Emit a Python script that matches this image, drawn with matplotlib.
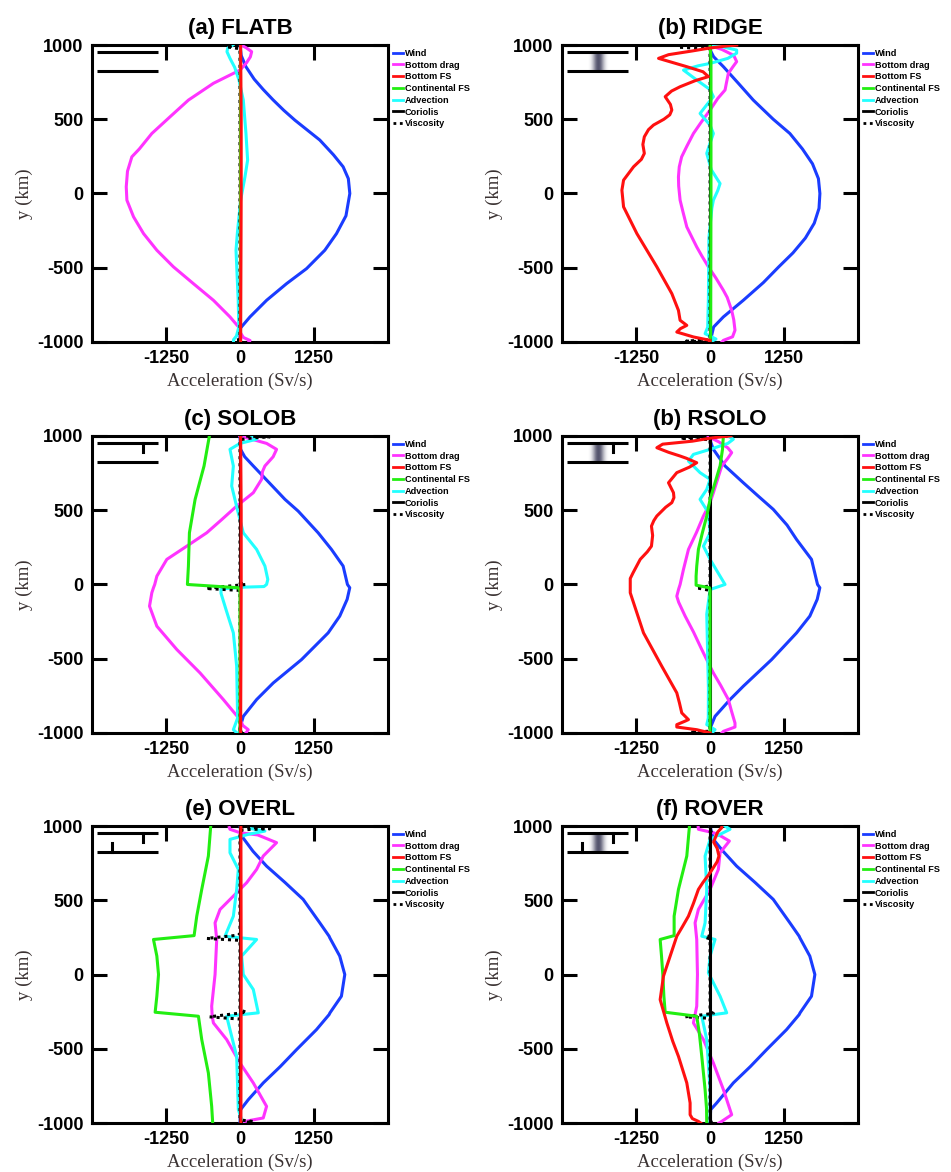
import numpy as np
import matplotlib.pyplot as plt
from matplotlib.lines import Line2D
from matplotlib.colors import LinearSegmentedColormap

plt.rcParams['font.family'] = ['Liberation Sans', 'DejaVu Sans']
plt.rcParams['axes.unicode_minus'] = False

# every curve: list of (y [km], acceleration [Sv/s])
coriolis = [(-1000, 0), (1000, 0)]

# (a) FLATB
flatb_wind = [(-1000, 0), (-910, 0), (-831, 169), (-719, 450), (-607, 787), (-506, 1124), (-382, 1433),
              (-270, 1630), (-150, 1790), (0, 1855), (100, 1830), (180, 1742), (260, 1580), (360, 1348),
              (494, 927), (560, 740), (630, 560), (700, 393), (770, 240), (854, 100), (930, 20), (1000, 0)]
flatb_drag = [(-1000, 150), (-990, 170), (-970, 60), (-940, 10), (-910, 0), (-831, -169), (-719, -449),
              (-607, -787), (-494, -1124), (-382, -1404), (-270, -1629), (-157, -1798), (-45, -1910),
              (45, -1921), (150, -1900), (247, -1826), (300, -1700), (404, -1489), (517, -1180),
              (629, -871), (742, -449), (831, 0), (880, 110), (920, 175), (955, 197), (980, 110), (1000, 20)]
flatb_bfs = [(-1000, 10), (-500, 15), (0, 20), (500, 20), (1000, 10)]
flatb_cfs = [(-1000, 0), (1000, 0)]
flatb_adv = [(-1000, -110), (-985, -110), (-960, -60), (-900, -20), (-720, -30), (-382, -67), (-270, -45),
             (-45, 11), (112, 84), (225, 129), (404, 101), (629, 56), (764, -17), (850, -90), (910, -169),
             (955, -220), (978, -208), (1000, -120)]
flatb_visc = [(-1000, 0), (-992, -80), (-980, 0), (975, 0), (988, -230), (1000, 0)]

# (b) RIDGE
ridge_wind = [(-1000, 0), (-950, 30), (-899, 60), (-831, 225), (-719, 562), (-600, 900), (-494, 1160),
              (-400, 1400), (-300, 1610), (-200, 1760), (-100, 1840), (0, 1855), (100, 1830), (200, 1730),
              (300, 1560), (404, 1348), (500, 1067), (629, 730), (742, 478), (854, 225), (921, 60),
              (960, 10), (1000, 0)]
ridge_drag = [(-1000, 200), (-989, 225), (-965, 380), (-921, 421), (-850, 400), (-787, 365), (-700, 290),
              (-652, 225), (-570, 100), (-494, -28), (-420, -140), (-360, -225), (-300, -300), (-225, -393),
              (-120, -460), (-45, -506), (50, -530), (112, -534), (180, -520), (247, -480), (320, -390),
              (404, -281), (480, -150), (562, 0), (640, 130), (697, 253), (742, 275), (809, 309),
              (850, 380), (888, 449), (930, 400), (970, 200), (989, 56), (1000, 0)]
ridge_bfs = [(-1000, 0), (-989, 0), (-966, -281), (-933, -562), (-910, -500), (-888, -393), (-854, -506),
             (-787, -534), (-674, -646), (-494, -899), (-270, -1236), (-90, -1461), (22, -1489),
             (90, -1461), (180, -1292), (230, -1160), (270, -1110), (330, -1135), (382, -1110), (430, -1040),
             (461, -955), (500, -780), (530, -680), (562, -646), (600, -670), (652, -758), (690, -650),
             (719, -506), (760, -250), (787, -28), (820, -120), (854, -393), (890, -700), (910, -870),
             (935, -700), (960, -300), (980, 0), (992, 250), (1000, 450)]
ridge_cfs = [(-1000, 0), (-950, 10), (0, 15), (900, 15), (1000, 0)]
ridge_adv = [(-1000, 0), (-980, 100), (-966, 30), (-944, -84), (-900, -40), (-700, -28), (-300, -20),
             (-100, 30), (-45, 56), (20, 130), (67, 169), (110, 100), (160, 20), (270, -56), (340, 0),
             (404, 56), (460, 0), (539, -169), (600, -50), (652, 56), (700, 0), (764, -225), (831, -449),
             (860, -200), (876, 0), (910, 300), (945, 449), (966, 449), (989, 200), (1000, 0)]
ridge_visc = [(-1000, 0), (-994, -400), (-985, 0), (975, 0), (985, -530), (995, -530), (1000, 0)]

# (c) SOLOB
solob_wind = [(-1000, 0), (-965, 0), (-888, 56), (-775, 281), (-663, 562), (-506, 1039), (-326, 1489),
              (-213, 1685), (-100, 1810), (-22, 1854), (0, 1815), (124, 1742), (236, 1545), (348, 1320),
              (494, 983), (573, 760), (685, 494), (798, 225), (860, 80), (910, 10), (1000, 0)]
solob_drag = [(-1000, 100), (-978, 140), (-950, 50), (-910, 0), (-775, -281), (-596, -674), (-438, -1067),
              (-281, -1404), (-146, -1528), (-56, -1489), (-22, -1461), (0, -1440), (56, -1404),
              (169, -1236), (258, -899), (348, -562), (440, -300), (528, -56), (618, 225), (708, 365),
              (760, 380), (798, 421), (860, 560), (910, 618), (950, 450), (978, 200), (1000, 0)]
solob_bfs = [(-1000, 10), (-500, 15), (0, 20), (500, 20), (1000, 10)]
solob_cfs = [(-1000, 0), (-40, 0), (-22, -30), (0, -888), (124, -871), (348, -854), (573, -758),
             (798, -607), (1000, -517)]
solob_adv = [(-1000, -50), (-978, -112), (-900, -40), (-551, -56), (-326, -112), (-169, -236), (-60, -320),
             (-30, -321), (-18, 68), (-14, 405), (0, 449), (34, 470), (124, 421), (236, 281), (348, 56),
             (506, -45), (663, -140), (798, -112), (910, -169), (950, 0), (978, 281), (1000, 200)]
solob_visc = [(-1000, 0), (-990, 60), (-980, 0), (-40, 0), (-27, -575), (-15, -300), (0, 100), (10, 0),
              (975, 0), (988, 225), (994, 505), (1000, 0)]

# (d) RSOLO
rsolo_wind = [(-1000, 0), (-950, 20), (-888, 84), (-775, 337), (-685, 562), (-506, 1039), (-326, 1461),
              (-213, 1685), (-100, 1810), (-22, 1854), (0, 1815), (169, 1713), (303, 1461), (400, 1300),
              (506, 1067), (600, 800), (685, 562), (798, 253), (910, 56), (960, 10), (1000, 0)]
rsolo_drag = [(-1000, 200), (-989, 225), (-960, 421), (-933, 421), (-850, 360), (-775, 309), (-680, 180),
              (-596, 56), (-520, -40), (-438, -140), (-320, -280), (-213, -421), (-120, -530), (-79, -562),
              (-30, -530), (0, -506), (100, -450), (236, -365), (350, -230), (461, -112), (540, -10),
              (618, 56), (700, 120), (798, 197), (850, 300), (888, 365), (920, 300), (960, 150), (990, 0),
              (1000, -30)]
rsolo_bfs = [(-1000, 0), (-990, -100), (-978, -225), (-960, -562), (-944, -562), (-920, -420), (-910, -365),
             (-865, -478), (-798, -517), (-730, -562), (-551, -815), (-326, -1124), (-56, -1348),
             (40, -1348), (79, -1300), (169, -1180), (220, -1060), (258, -990), (330, -970), (393, -990),
             (430, -950), (461, -899), (520, -750), (551, -646), (585, -610), (618, -618), (685, -702),
             (753, -562), (790, -350), (820, -225), (850, -400), (865, -506), (890, -700), (921, -899),
             (945, -800), (965, -300), (985, 0), (995, 200), (1000, 350)]
rsolo_cfs = [(-1000, 0), (-40, 0), (-22, -10), (-5, -236), (56, -236), (124, -225), (236, -197),
             (348, -130), (461, -56), (573, 0), (685, 84), (800, 170), (910, 210), (1000, 225)]
rsolo_adv = [(-1000, 30), (-978, 84), (-944, -56), (-900, -30), (-700, -28), (-200, -56), (-34, 0),
             (0, 253), (56, 169), (169, 0), (258, -112), (348, 0), (483, -28), (573, -169), (640, -56),
             (708, 0), (753, -169), (831, -365), (876, -281), (910, 0), (950, 300), (978, 393), (1000, 300)]
rsolo_visc = [(-1000, 0), (-995, -337), (-988, 0), (-40, 0), (-22, -236), (-10, 0), (975, 0),
              (985, -505), (992, -280), (1000, 0)]

# (e) OVERL
overl_wind = [(-1000, 0), (-910, 10), (-843, 140), (-730, 393), (-620, 680), (-506, 955), (-371, 1292),
              (-270, 1505), (-258, 1520), (-146, 1713), (0, 1770), (124, 1685), (247, 1517), (258, 1505),
              (348, 1348), (506, 1067), (620, 760), (730, 449), (830, 220), (933, 28), (1000, 0)]
overl_drag = [(-1000, 60), (-989, 84), (-966, 393), (-888, 449), (-730, 225), (-596, 0), (-438, -225),
              (-326, -449), (-280, -470), (-213, -478), (0, -421), (236, -393), (348, -421), (438, -337),
              (528, -112), (618, 112), (708, 281), (798, 393), (888, 618), (940, 300), (955, 0),
              (978, -169), (990, -180)]
overl_bfs = [(-1000, 15), (0, 20), (1000, 15)]
overl_cfs = [(-1000, -461), (-888, -478), (-663, -534), (-438, -646), (-281, -702), (-254, -1433),
             (-146, -1404), (0, -1376), (124, -1404), (236, -1461), (262, -775), (393, -730), (573, -646),
             (798, -534), (1000, -494)]
overl_adv = [(-1000, 28), (-978, 28), (-910, -28), (-551, -56), (-371, -169), (-281, -225), (-258, 309),
             (-101, 225), (0, 56), (124, 28), (236, 281), (258, -253), (393, -112), (573, -56), (708, -28),
             (820, -169), (910, -169), (945, 150), (966, 421), (985, 150)]
overl_visc = [(-1000, 0), (-990, 225), (-982, 56), (-975, 0), (-300, 0), (-285, -517), (-254, 112),
              (-240, 0), (230, 0), (243, -562), (265, -28), (275, 0), (965, 0), (975, 56), (982, 505),
              (1000, 0)]

# (f) ROVER
rover_wind = [(-1000, 0), (-910, 10), (-865, 112), (-730, 393), (-620, 680), (-506, 955), (-371, 1292),
              (-270, 1505), (-258, 1520), (-146, 1713), (0, 1770), (124, 1685), (247, 1517), (258, 1505),
              (348, 1348), (506, 1067), (620, 760), (730, 449), (830, 220), (910, 56), (1000, 0)]
rover_drag = [(-1000, 150), (-989, 197), (-944, 365), (-775, 225), (-596, 56), (-438, -112), (-326, -281),
              (-213, -225), (0, -213), (236, -225), (348, -253), (438, -197), (573, 0), (708, 140),
              (820, 169), (899, 326), (940, 150), (955, 56), (978, -197), (990, -200)]
rover_bfs = [(-1000, -160), (-989, -197), (-970, -300), (-944, -337), (-865, -337), (-730, -393),
             (-551, -534), (-450, -630), (-326, -730), (-169, -843), (-11, -787), (124, -674), (258, -562),
             (320, -470), (393, -365), (480, -280), (573, -197), (620, -120), (685, 0), (760, 120),
             (798, 150), (850, 120), (892, 60), (933, 100), (960, 130), (989, 197), (1000, 200)]
rover_cfs = [(-1000, -56), (-900, -60), (-775, -84), (-551, -140), (-400, -180), (-281, -225),
             (-254, -758), (-146, -780), (0, -798), (124, -820), (236, -843), (262, -607), (393, -607),
             (573, -534), (798, -393), (1000, -348)]
rover_adv = [(-1000, 0), (-775, 0), (-438, -56), (-281, -140), (-258, 281), (-146, 169), (11, -28),
             (124, 0), (236, 84), (258, -140), (348, -84), (573, -56), (798, -84), (910, 0), (978, 337),
             (1000, 250)]
rover_visc = [(-1000, 0), (-990, 50), (-980, 0), (-295, 0), (-285, -421), (-262, 56), (-250, 0), (240, 0),
              (250, -80), (262, 0), (960, 0), (975, 60), (990, 0), (1000, 0)]

names = ['Wind', 'Bottom drag', 'Bottom FS', 'Continental FS', 'Advection', 'Coriolis', 'Viscosity']
colors = ['#1a3cff', '#ff33ff', '#ff1010', '#22ee11', '#22ffff', 'black', 'black']
zorders = [3, 3, 5, 4.6, 3.5, 4.4, 4.2]

panels = [
    ('(a) FLATB', [flatb_wind, flatb_drag, flatb_bfs, flatb_cfs, flatb_adv, coriolis, flatb_visc], False, 0),
    ('(b) RIDGE', [ridge_wind, ridge_drag, ridge_bfs, ridge_cfs, ridge_adv, coriolis, ridge_visc], True, 0),
    ('(c) SOLOB', [solob_wind, solob_drag, solob_bfs, solob_cfs, solob_adv, coriolis, solob_visc], False, 1),
    ('(b) RSOLO', [rsolo_wind, rsolo_drag, rsolo_bfs, rsolo_cfs, rsolo_adv, coriolis, rsolo_visc], True, 1),
    ('(e) OVERL', [overl_wind, overl_drag, overl_bfs, overl_cfs, overl_adv, coriolis, overl_visc], False, 2),
    ('(f) ROVER', [rover_wind, rover_drag, rover_bfs, rover_cfs, rover_adv, coriolis, rover_visc], True, 2),
]

fig = plt.figure(figsize=(9.51, 11.72), dpi=100)
lefts = [0.0967, 0.591]
bottoms = [0.7082, 0.3746, 0.0418]
w, h = 0.3113, 0.2534

ridge_cmap = LinearSegmentedColormap.from_list('ridge', ['white', '#4c4c66'])
ridge_profile = np.array([[0.0, 0.15, 0.45, 0.85, 1.0, 0.85, 0.45, 0.15, 0.0]])
dots = (0, (1, 1.3))

for i, (title, curves, ridge, slopes) in enumerate(panels):
    ax = fig.add_axes([lefts[i % 2], bottoms[i // 2], w, h])
    for name, pts, c, z in zip(names, curves, colors, zorders):
        yy = [p[0] for p in pts]
        xx = [p[1] for p in pts]
        ls = dots if name == 'Viscosity' else '-'
        ax.plot(xx, yy, color=c, lw=2.2, ls=ls, zorder=z, label=name)

    # schematic of the basin geometry (top-left corner)
    for yl in (0.976, 0.912):
        ax.plot([0.017, 0.223], [yl, yl], color='black', lw=2.2, transform=ax.transAxes,
                zorder=7, solid_capstyle='butt')
    if slopes >= 1:
        ax.plot([0.172, 0.172], [0.976, 0.945], color='black', lw=2.2, transform=ax.transAxes, zorder=7)
    if slopes >= 2:
        ax.plot([0.068, 0.068], [0.912, 0.943], color='black', lw=2.2, transform=ax.transAxes, zorder=7)
    if ridge:
        ax.imshow(ridge_profile, cmap=ridge_cmap, vmin=0, vmax=1, aspect='auto', interpolation='bicubic',
                  extent=(0.088, 0.156, 0.916, 0.972), transform=ax.transAxes, zorder=6)

    ax.set_xlim(-2500, 2500)
    ax.set_ylim(-1000, 1000)
    ax.set_xticks([-1250, 0, 1250])
    ax.set_yticks([-1000, -500, 0, 500, 1000])
    ax.tick_params(direction='in', length=10.5, width=2.2, top=True, right=True, labelsize=13, pad=6)
    for lbl in ax.get_xticklabels() + ax.get_yticklabels():
        lbl.set_fontweight('bold')
    for sp in ax.spines.values():
        sp.set_linewidth(2.2)
    ax.set_title(title, fontsize=16, fontweight='bold', pad=8)
    ax.set_xlabel('Acceleration (Sv/s)', family='Liberation Serif', fontsize=13.5, color='#3a3232', labelpad=4)
    ax.set_ylabel('y (km)', family='Liberation Serif', fontsize=13.5, color='#3a3232', labelpad=3)

    handles = [Line2D([], [], color=c, lw=2.0, ls=(dots if n == 'Viscosity' else '-'))
               for n, c in zip(names, colors)]
    ax.legend(handles, names, loc='upper left', bbox_to_anchor=(1.017, 0.987), frameon=False,
              prop={'size': 6.6, 'weight': 'bold'}, handlelength=1.1, handletextpad=0.2,
              labelspacing=0.3, borderpad=0, borderaxespad=0)

fig.savefig('out.png', dpi=100)
